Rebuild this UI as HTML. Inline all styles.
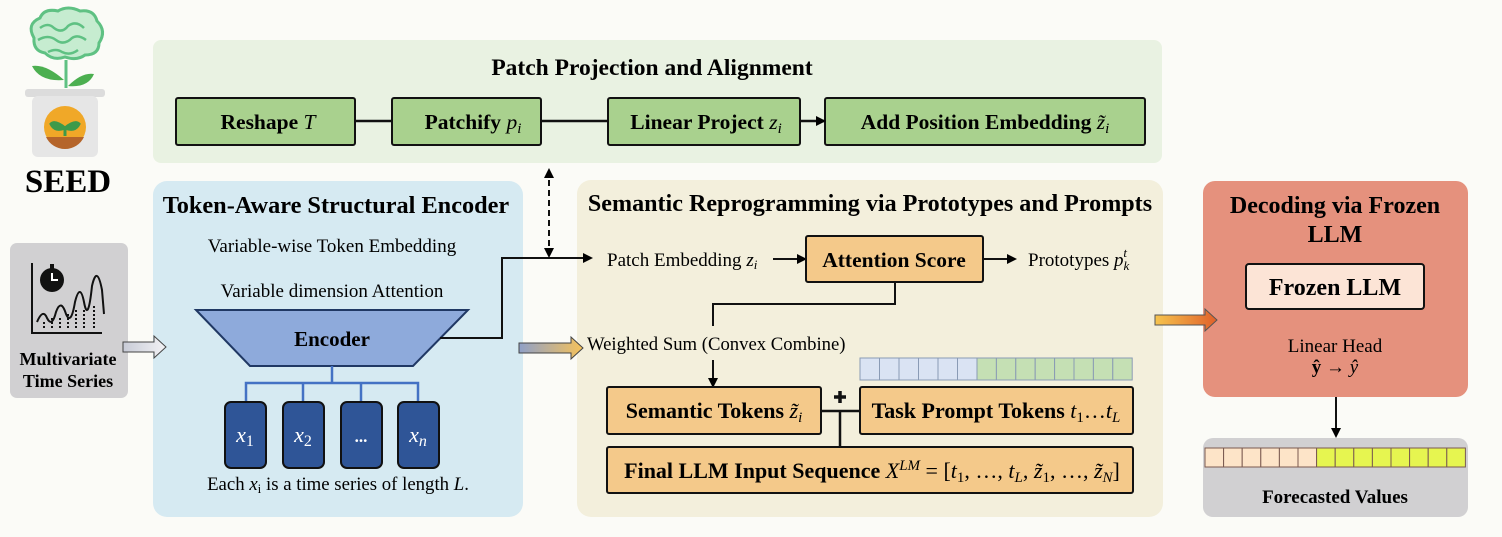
<!DOCTYPE html>
<html><head><meta charset="utf-8"><style>
html,body{margin:0;padding:0;background:#fbfbf7;}
svg{display:block;font-family:"Liberation Serif",serif;}
.b{font-weight:bold;}
</style></head><body>
<svg width="1502" height="537" viewBox="0 0 1502 537" xmlns="http://www.w3.org/2000/svg">
<defs>
<marker id="ah" markerWidth="10" markerHeight="10" refX="8" refY="5" orient="auto" markerUnits="userSpaceOnUse"><path d="M0,0 L10,5 L0,10 z" fill="#000"/></marker>
<marker id="ahs" markerWidth="10" markerHeight="10" refX="2" refY="5" orient="auto" markerUnits="userSpaceOnUse"><path d="M10,0 L0,5 L10,10 z" fill="#000"/></marker>
<linearGradient id="gg" x1="0" x2="1"><stop offset="0" stop-color="#c8cbd6"/><stop offset="1" stop-color="#f2f2f5"/></linearGradient>
<linearGradient id="gy" x1="0" x2="1"><stop offset="0" stop-color="#8fa0c8"/><stop offset="1" stop-color="#f6c25a"/></linearGradient>
<linearGradient id="go" x1="0" x2="1"><stop offset="0" stop-color="#f6c44e"/><stop offset="1" stop-color="#e0602a"/></linearGradient>
</defs>

<!-- Logo -->
<g>
<path d="M34,38 q-8,-14 6,-20 q4,-10 18,-7 q10,-6 22,0 q14,-2 17,10 q10,10 2,22 q0,12 -14,12 q-8,6 -20,2 q-12,4 -20,-4 q-12,-2 -11,-15z" fill="#c6ecd0" stroke="#5fc183" stroke-width="3"/>
<path d="M40,28 q8,-6 14,0 q8,6 14,-2 q8,-6 16,2 M38,40 q10,-6 18,0 q8,6 16,-2 q6,-4 14,2 M48,52 q8,-4 14,0 q8,4 16,-2" stroke="#5fc183" stroke-width="2.5" fill="none"/>
<path d="M66,60 L66,88" stroke="#5fc183" stroke-width="3"/>
<path d="M64,80 q-18,-16 -32,-14 q8,16 32,14z" fill="#4caf50"/>
<path d="M68,86 q14,-14 26,-12 q-6,14 -26,12z" fill="#4caf50"/>
<rect x="25" y="89" width="80" height="8" rx="3" fill="#dcdcdc"/>
<rect x="32" y="96" width="66" height="61" rx="6" fill="#e6e6e6"/>
<circle cx="65" cy="127" r="21" fill="#f0a828"/>
<path d="M46,137 h38 a21,21 0 0 1 -38,0z" fill="#b5652a"/>
<path d="M65,136 v-10 M65,128 q-10,-8 -14,-4 q4,8 14,4 M65,128 q10,-8 14,-4 q-4,8 -14,4" stroke="#3d9a4a" stroke-width="3" fill="#3d9a4a"/>
<text x="68" y="192" text-anchor="middle" class="b" font-size="33">SEED</text>
</g>

<!-- Patch Projection panel -->
<rect x="153" y="40" width="1009" height="123" rx="8" fill="#e9f2e2"/>
<text x="652" y="75" text-anchor="middle" class="b" font-size="23.5">Patch Projection and Alignment</text>
<g stroke="#111" stroke-width="2" fill="#a9d18e">
<rect x="176" y="98" width="179" height="47" rx="2"/>
<rect x="392" y="98" width="149" height="47" rx="2"/>
<rect x="608" y="98" width="192" height="47" rx="2"/>
<rect x="825" y="98" width="320" height="47" rx="2"/>
</g>
<g stroke="#111" stroke-width="2.5">
<line x1="355" y1="121" x2="392" y2="121"/>
<line x1="541" y1="121" x2="608" y2="121"/>
<line x1="800" y1="121" x2="824" y2="121" marker-end="url(#ah)"/>
</g>
<g font-size="21.5" class="b" text-anchor="middle">
<text x="268" y="129">Reshape <tspan font-style="italic" font-weight="normal">T</tspan></text>
<text x="473" y="129">Patchify <tspan font-style="italic" font-weight="normal">p</tspan><tspan font-style="italic" font-weight="normal" font-size="15" dy="4">i</tspan></text>
<text x="706" y="129">Linear Project <tspan font-style="italic" font-weight="normal">z</tspan><tspan font-style="italic" font-weight="normal" font-size="15" dy="4">i</tspan></text>
<text x="985" y="129">Add Position Embedding <tspan font-style="italic" font-weight="normal">z̃</tspan><tspan font-style="italic" font-weight="normal" font-size="15" dy="4">i</tspan></text>
</g>

<!-- Multivariate -->
<rect x="10" y="243" width="118" height="155" rx="7" fill="#d1d0d2"/>
<g stroke="#111" stroke-width="2" fill="none">
<path d="M32,263 V333 H102"/>
<path d="M37,322 q6,-14 10,-4 q5,10 9,-6 q5,-14 10,2 q5,12 9,-12 q5,-20 9,0 q4,22 8,-16 q5,-22 10,4 l2,24"/>
<path d="M44,328 v-8 M52,328 v-10 M60,328 v-12 M68,328 v-14 M76,328 v-18 M84,328 v-20 M94,328 v-24" stroke-dasharray="2,2"/>
</g>
<circle cx="52" cy="280" r="12" fill="#111"/>
<path d="M52,273 v7 h6" stroke="#fff" stroke-width="2" fill="none"/>
<rect x="50" y="264" width="4" height="5" fill="#111"/>
<text x="68" y="365" text-anchor="middle" class="b" font-size="18">Multivariate</text>
<text x="68" y="387" text-anchor="middle" class="b" font-size="18">Time Series</text>

<!-- Token-aware panel -->
<rect x="153" y="181" width="370" height="336" rx="14" fill="#d6eaf2"/>
<text x="336" y="213" text-anchor="middle" class="b" font-size="24.3">Token-Aware Structural Encoder</text>
<text x="332" y="252" text-anchor="middle" font-size="19">Variable-wise Token Embedding</text>
<text x="332" y="297" text-anchor="middle" font-size="19">Variable dimension Attention</text>
<path d="M196,310 H468 L413,366 H250z" fill="#8eaadb" stroke="#203864" stroke-width="2"/>
<text x="332" y="346" text-anchor="middle" class="b" font-size="21">Encoder</text>
<g stroke="#4472c4" stroke-width="2.5" fill="none">
<path d="M332,366 V383 M246,403 V383 H418 V403 M303,383 V403 M361,383 V403"/>
</g>
<g fill="#2f5597" stroke="#111" stroke-width="2">
<rect x="225" y="402" width="41" height="66" rx="6"/>
<rect x="283" y="402" width="41" height="66" rx="6"/>
<rect x="341" y="402" width="41" height="66" rx="6"/>
<rect x="398" y="402" width="41" height="66" rx="6"/>
</g>
<g fill="#fff" font-size="22" font-style="italic" text-anchor="middle">
<text x="245" y="442">x<tspan font-size="16" dy="4" font-style="normal">1</tspan></text>
<text x="303" y="442">x<tspan font-size="16" dy="4" font-style="normal">2</tspan></text>
<text x="361" y="442" font-style="normal" class="b" font-size="17">...</text>
<text x="418" y="442">x<tspan font-size="16" dy="4">n</tspan></text>
</g>
<text x="338" y="490" text-anchor="middle" font-size="18.8">Each <tspan font-style="italic">x</tspan><tspan font-size="13" dy="3">i</tspan><tspan dy="-3"> is a time series of length </tspan><tspan font-style="italic">L</tspan>.</text>

<!-- Semantic panel -->
<rect x="577" y="180" width="586" height="337" rx="14" fill="#f3efdc"/>
<text x="870" y="211" text-anchor="middle" class="b" font-size="24.1">Semantic Reprogramming via Prototypes and Prompts</text>
<text x="607" y="266" font-size="19">Patch Embedding <tspan font-style="italic">z</tspan><tspan font-style="italic" font-size="13" dy="3">i</tspan></text>
<line x1="773" y1="259" x2="805" y2="259" stroke="#111" stroke-width="2" marker-end="url(#ah)"/>
<rect x="806" y="236" width="177" height="46" rx="2" fill="#f4c98a" stroke="#111" stroke-width="2"/>
<text x="894" y="267" text-anchor="middle" class="b" font-size="21.5">Attention Score</text>
<line x1="983" y1="259" x2="1015" y2="259" stroke="#111" stroke-width="2" marker-end="url(#ah)"/>
<text x="1028" y="266" font-size="19">Prototypes <tspan font-style="italic">p</tspan><tspan font-style="italic" font-size="13" dy="4">k</tspan><tspan font-style="italic" font-size="13" dx="-6" dy="-13">t</tspan></text>
<path d="M895,282 V304 H713 V326" stroke="#111" stroke-width="2" fill="none"/>
<text x="587" y="350" font-size="18.7">Weighted Sum (Convex Combine)</text>
<line x1="713" y1="360" x2="713" y2="386" stroke="#111" stroke-width="2" marker-end="url(#ah)"/>
<g stroke="#8a9bb5" stroke-width="1">
<rect x="860" y="358" width="19.5" height="22" fill="#dae3f3"/><rect x="879.5" y="358" width="19.5" height="22" fill="#dae3f3"/><rect x="899" y="358" width="19.5" height="22" fill="#dae3f3"/><rect x="918.5" y="358" width="19.5" height="22" fill="#dae3f3"/><rect x="938" y="358" width="19.5" height="22" fill="#dae3f3"/><rect x="957.5" y="358" width="19.5" height="22" fill="#dae3f3"/>
<rect x="977" y="358" width="19.4" height="22" fill="#c5e0b4"/><rect x="996.4" y="358" width="19.4" height="22" fill="#c5e0b4"/><rect x="1015.8" y="358" width="19.4" height="22" fill="#c5e0b4"/><rect x="1035.2" y="358" width="19.4" height="22" fill="#c5e0b4"/><rect x="1054.6" y="358" width="19.4" height="22" fill="#c5e0b4"/><rect x="1074" y="358" width="19.4" height="22" fill="#c5e0b4"/><rect x="1093.4" y="358" width="19.4" height="22" fill="#c5e0b4"/><rect x="1112.8" y="358" width="19.4" height="22" fill="#c5e0b4"/>
</g>
<g fill="#f4c98a" stroke="#111" stroke-width="2">
<rect x="607" y="387" width="214" height="47" rx="2"/>
<rect x="860" y="387" width="273" height="47" rx="2"/>
<rect x="607" y="447" width="526" height="46" rx="2"/>
</g>
<path d="M821,411 H860 M840,411 V447" stroke="#111" stroke-width="2.5"/>
<path d="M840,391 v12 M834,397 h12" stroke="#111" stroke-width="3.5"/>
<g class="b" font-size="22" text-anchor="middle">
<text x="714" y="418">Semantic Tokens <tspan font-style="italic" font-weight="normal">z̃</tspan><tspan font-style="italic" font-weight="normal" font-size="15" dy="4">i</tspan></text>
<text x="996" y="418">Task Prompt Tokens <tspan font-style="italic" font-weight="normal">t</tspan><tspan font-weight="normal" font-size="15" dy="4">1</tspan><tspan font-weight="normal" dy="-4">…</tspan><tspan font-style="italic" font-weight="normal">t</tspan><tspan font-style="italic" font-weight="normal" font-size="15" dy="4">L</tspan></text>
<text x="872" y="478">Final LLM Input Sequence <tspan font-style="italic" font-weight="normal">X</tspan><tspan font-style="italic" font-weight="normal" font-size="15" dy="-8">LM</tspan><tspan font-weight="normal" dy="8"> = [</tspan><tspan font-style="italic" font-weight="normal">t</tspan><tspan font-weight="normal" font-size="15" dy="4">1</tspan><tspan font-weight="normal" dy="-4">, …, </tspan><tspan font-style="italic" font-weight="normal">t</tspan><tspan font-style="italic" font-weight="normal" font-size="15" dy="4">L</tspan><tspan font-weight="normal" dy="-4">, </tspan><tspan font-style="italic" font-weight="normal">z̃</tspan><tspan font-weight="normal" font-size="15" dy="4">1</tspan><tspan font-weight="normal" dy="-4">, …, </tspan><tspan font-style="italic" font-weight="normal">z̃</tspan><tspan font-style="italic" font-weight="normal" font-size="15" dy="4">N</tspan><tspan font-weight="normal" dy="-4">]</tspan></text>
</g>

<!-- Decoding panel -->
<rect x="1203" y="181" width="265" height="216" rx="12" fill="#e5917d"/>
<text x="1335" y="213" text-anchor="middle" class="b" font-size="24">Decoding via Frozen</text>
<text x="1335" y="242" text-anchor="middle" class="b" font-size="24">LLM</text>
<rect x="1246" y="264" width="178" height="45" rx="3" fill="#fce4d6" stroke="#111" stroke-width="2"/>
<text x="1335" y="295" text-anchor="middle" class="b" font-size="24">Frozen LLM</text>
<text x="1335" y="352" text-anchor="middle" font-size="19">Linear Head</text>
<text x="1335" y="373" text-anchor="middle" font-size="19"><tspan font-weight="bold">ŷ</tspan> → <tspan font-style="italic">ŷ</tspan></text>
<line x1="1336" y1="397" x2="1336" y2="436" stroke="#111" stroke-width="2" marker-end="url(#ah)"/>

<!-- Forecast panel -->
<rect x="1203" y="438" width="265" height="79" rx="10" fill="#d1d0d2"/>
<g stroke="#7a5a50" stroke-width="1">
<rect x="1205" y="448" width="18.6" height="19" fill="#fde4c8"/><rect x="1223.6" y="448" width="18.6" height="19" fill="#fde4c8"/><rect x="1242.2" y="448" width="18.6" height="19" fill="#fde4c8"/><rect x="1260.8" y="448" width="18.6" height="19" fill="#fde4c8"/><rect x="1279.4" y="448" width="18.6" height="19" fill="#fde4c8"/><rect x="1298" y="448" width="18.6" height="19" fill="#fde4c8"/>
<rect x="1316.6" y="448" width="18.6" height="19" fill="#e6f550"/><rect x="1335.2" y="448" width="18.6" height="19" fill="#e6f550"/><rect x="1353.8" y="448" width="18.6" height="19" fill="#e6f550"/><rect x="1372.4" y="448" width="18.6" height="19" fill="#e6f550"/><rect x="1391" y="448" width="18.6" height="19" fill="#e6f550"/><rect x="1409.6" y="448" width="18.6" height="19" fill="#e6f550"/><rect x="1428.2" y="448" width="18.6" height="19" fill="#e6f550"/><rect x="1446.8" y="448" width="18.6" height="19" fill="#e6f550"/>
</g>
<text x="1335" y="503" text-anchor="middle" class="b" font-size="19">Forecasted Values</text>

<!-- Connectors on top -->
<path d="M123,342 h31 v-6 l12,11 l-12,11 v-6 h-31z" fill="url(#gg)" stroke="#444" stroke-width="1"/>
<path d="M440,338 H502 V258 H591" stroke="#111" stroke-width="2" fill="none" marker-end="url(#ah)"/>
<line x1="549" y1="170" x2="549" y2="256" stroke="#111" stroke-width="2" stroke-dasharray="6,4" marker-start="url(#ahs)" marker-end="url(#ah)"/>
<path d="M519,343 h52 v-6 l12,11 l-12,11 v-6 h-52z" fill="url(#gy)" stroke="#444" stroke-width="1"/>
<path d="M1155,315 h50 v-6 l12,11 l-12,11 v-6 h-50z" fill="url(#go)" stroke="#555" stroke-width="1"/>
</svg>
</body></html>
